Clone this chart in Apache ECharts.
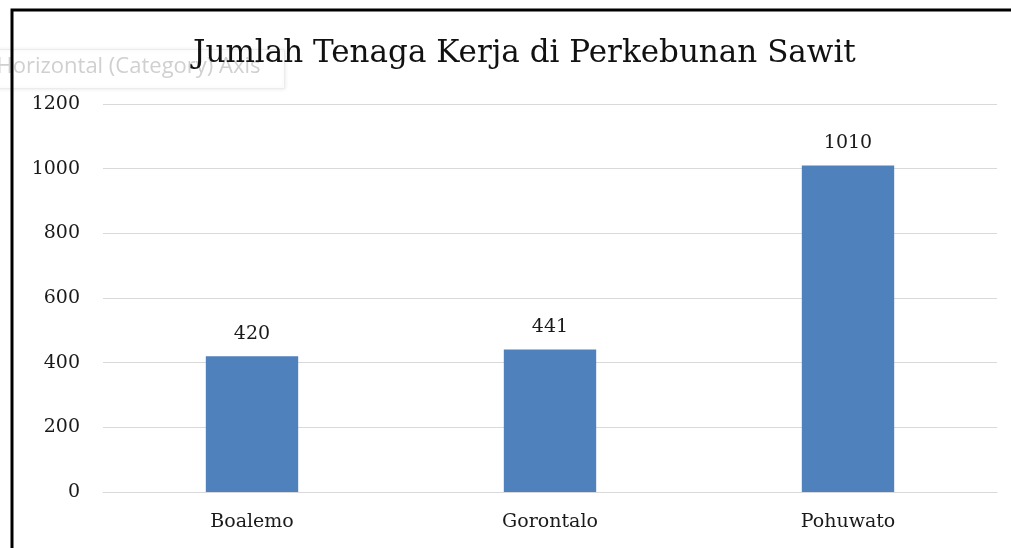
<!DOCTYPE html>
<html>
<head>
<meta charset="utf-8">
<script src="https://cdn.jsdelivr.net/npm/echarts@6/dist/echarts.min.js"></script>
<style>
  html, body { margin: 0; padding: 0; background: #fff; }
  #chart { width: 1011px; height: 548px; }
</style>
</head>
<body>
<div id="chart"></div>
<script>
// Labour count per regency on oil-palm plantations
const chartTitle = 'Jumlah Tenaga Kerja di Perkebunan Sawit';
const categories = ['Boalemo', 'Gorontalo', 'Pohuwato'];
const workers = [420, 441, 1010];
const yTicks = { min: 0, max: 1200, interval: 200 };

const serif = '"DejaVu Serif", "Liberation Serif", serif';
const chart = echarts.init(document.getElementById('chart'));

chart.setOption({
  animation: false,
  backgroundColor: '#ffffff',
  title: {
    text: chartTitle,
    left: 188,
    top: 33,
    textStyle: { fontFamily: serif, fontSize: 31, fontWeight: 'normal', color: '#111' }
  },
  grid: { left: 103, right: 14, top: 104, bottom: 56, containLabel: false },
  xAxis: {
    type: 'category',
    data: categories,
    axisLine: { lineStyle: { color: '#d9d9d9', width: 1 } },
    axisTick: { show: false },
    axisLabel: { margin: 21, fontFamily: serif, fontSize: 19, color: '#1a1a1a' }
  },
  yAxis: {
    type: 'value',
    min: yTicks.min,
    max: yTicks.max,
    interval: yTicks.interval,
    axisLine: { show: false },
    axisTick: { show: false },
    axisLabel: {
      margin: 23, fontFamily: serif, fontSize: 19, color: '#1a1a1a',
      formatter: v => String(v)
    },
    splitLine: { lineStyle: { color: '#d9d9d9', width: 1 } }
  },
  series: [{
    type: 'bar',
    data: workers,
    barWidth: '31%',
    itemStyle: { color: '#4f81bd' },
    label: {
      show: true,
      position: 'top',
      distance: 13,
      fontFamily: serif,
      fontSize: 19,
      color: '#1a1a1a'
    }
  }],
  graphic: [
    // faint hover hint box near the top-left
    {
      type: 'group',
      left: -8,
      top: 49,
      z: 0,
      children: [
        {
          type: 'rect',
          shape: { x: 0, y: 0, width: 292, height: 39 },
          style: { fill: '#ffffff', stroke: '#ececec', lineWidth: 1, shadowBlur: 4, shadowColor: 'rgba(0,0,0,0.08)' }
        },
        {
          type: 'text',
          style: {
            x: 4, y: 6,
            text: 'Horizontal (Category) Axis',
            font: '22px "Open Sans", "Noto Sans", sans-serif',
            fill: '#d0d0d0'
          }
        }
      ]
    },
    // frame edges on the top and left
    {
      type: 'polyline',
      z: 100,
      shape: { points: [[12, 548], [12, 10], [1011, 10]] },
      style: { stroke: '#000', lineWidth: 3, fill: null }
    }
  ]
});
</script>
</body>
</html>
